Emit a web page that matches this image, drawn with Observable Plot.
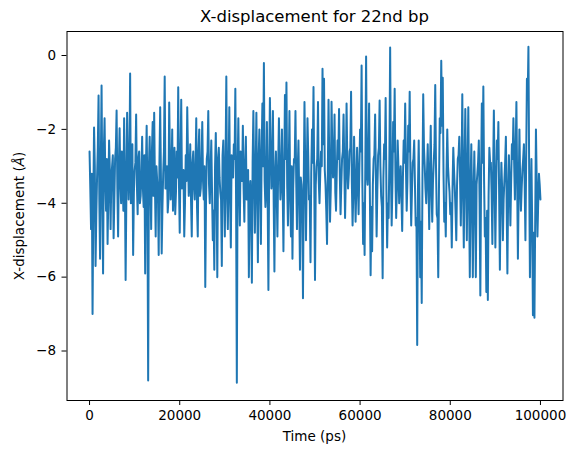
<!DOCTYPE html>
<html><head><meta charset="utf-8">
<script src="https://cdn.jsdelivr.net/npm/d3@7"></script>
<script src="https://cdn.jsdelivr.net/npm/@observablehq/plot@0.6"></script>
<style>
body{margin:0;background:#fff;}
#wrap{position:relative;width:575px;height:453px;font-family:"DejaVu Sans",sans-serif;color:#000;}
#wrap svg{position:absolute;left:0;top:0;}
.lbl{position:absolute;white-space:nowrap;line-height:1;}
</style></head><body>
<div id="wrap">
<div class="lbl" style="left:314.5px;top:17px;transform:translate(-50%,-50%);font-size:16.5px;">X-displacement for 22nd bp</div>
<div class="lbl" style="left:314.5px;top:437px;transform:translate(-50%,-50%);font-size:13.5px;">Time (ps)</div>
<div class="lbl" style="left:20px;top:215.5px;transform:translate(-50%,-50%) rotate(-90deg);font-size:13.5px;">X-displacement (<i>Å</i>)</div>
</div>
<script>
const title = "X-displacement for 22nd bp";
const xLabel = "Time (ps)";
const yLabel = "X-displacement (Å)";
const xTicks = [0, 20000, 40000, 60000, 80000, 100000];
const yTicks = [0, -2, -4, -6, -8];
const timeStep = 100000 / 300; // ps between the main samples
// samples at t = i * timeStep
const xDisp = [
  -2.6,-4.7,-7.0,-1.95,-5.7,-3.3,-1.08,-5.5,-0.81,-5.9,-1.7,-4.2,-5.1,-2.3,-4.7,
  -3.0,-4.95,-2.8,-1.49,-4.9,-1.97,-4.0,-3.2,-1.7,-6.08,-1.55,-3.9,-0.49,-3.5,-5.4,
  -3.1,-1.6,-4.3,-2.6,-3.8,-2.2,-4.1,-5.9,-1.9,-8.8,-2.2,-4.7,-1.8,-1.55,-4.9,
  -3.4,-5.4,-1.4,-5.36,-3.2,-0.57,-3.6,-4.25,-1.27,-3.9,-2.0,-3.5,-4.3,-2.6,-0.86,
  -4.8,-1.2,-3.4,-4.9,-2.7,-1.4,-3.8,-2.4,-4.9,-2.6,-3.9,-1.7,-4.9,-2.0,-3.6,
  -1.8,-3.9,-6.27,-2.8,-1.5,-4.0,-2.3,-5.0,-5.8,-2.1,-6.0,-2.5,-3.7,-5.7,-2.3,
  -4.9,-0.57,-4.7,-1.4,-5.2,-3.0,-2.4,-0.9,-8.86,-1.7,-4.6,-2.8,-1.9,-4.5,-2.2,
  -3.5,-6.0,-3.4,-6.15,-1.5,-4.8,-1.55,-5.6,-2.0,-5.1,-1.3,-0.2,-4.1,-1.8,-6.35,
  -1.15,-3.6,-1.5,-5.85,-2.6,-4.9,-1.7,-3.9,-2.0,-5.3,-1.07,-0.73,-4.6,-1.5,-4.9,
  -5.5,-2.8,-1.5,-4.7,-2.3,-5.8,-3.5,-6.57,-1.26,-5.0,-1.7,-3.9,-5.6,-2.0,-0.85,
  -6.08,-3.0,-1.26,-4.0,-2.6,-0.36,-0.63,-3.5,-5.1,-1.2,-4.5,-1.25,-3.3,-1.6,-4.2,
  -2.3,-1.45,-4.3,-2.8,-1.6,-4.4,-1.3,-3.6,-2.6,-0.98,-4.6,-2.2,-4.5,-2.5,-4.3,
  -2.0,-0.27,-5.1,-5.4,-0.03,-3.5,-1.3,-5.95,-5.3,-2.8,-1.6,-4.9,-2.7,-1.22,-3.8,
  -6.03,-2.4,-1.15,-5.2,-4.4,0.22,-4.6,-1.8,-0.9,-4.4,-2.3,-4.0,-3.0,-4.75,-2.3,
  -1.3,-4.2,-1.9,-0.98,-4.6,-2.9,-2.3,-4.6,-7.84,-2.3,-6.0,-6.7,-1.05,-3.0,-4.0,
  -2.4,-4.7,-1.9,-4.5,-2.9,-0.8,-4.3,-6.0,-1.7,-0.14,-0.6,-4.5,-4.9,-2.0,-3.4,
  -4.3,-5.2,-2.5,-3.6,-5.0,-2.8,-2.2,-4.6,-1.05,-5.2,-1.45,-5.0,-1.4,-6.0,-2.4,
  -6.0,-2.6,-6.0,-3.2,-2.3,-6.5,-1.3,-0.84,-4.9,-6.4,-6.62,-2.5,-2.9,-5.1,-1.49,
  -5.2,-2.3,-1.8,-5.8,-2.9,-5.0,-3.4,-2.2,-5.9,-2.7,-4.6,-2.4,-1.7,-3.9,-1.26,
  -5.5,-2.0,-4.2,-3.1,-2.4,-5.0,-0.63,0.24,-6.0,-2.8,-7.03,-7.1,-2.0,-4.9,-3.2,
  -3.9
];
// samples at t = (i + 0.5) * timeStep (the dense core of the band)
const xDispMid = [
  -3.6,-3.2,-4.1,-3.0,-4.3,-2.5,-3.9,-2.9,-3.7,-2.6,-3.4,-2.8,-3.8,-3.1,-3.3,
  -2.7,-3.9,-2.5,-3.6,-3.0,-3.4,-2.6,-4.2,-3.3,-3.8,-2.9,-3.1,-4.0,-2.4,-3.7,
  -2.9,-3.5,-2.8,-4.0,-3.2,-3.6,-2.7,-3.1,-3.9,-3.0,-3.4,-2.6,-3.8,-3.5,-3.0,
  -3.7,-2.9,-3.3,-4.1,-2.6,-3.6,-3.0,-3.9,-2.8,-3.2,-4.2,-2.5,-3.7,-3.3,-3.5,
  -2.8,-3.6,-3.1,-4.0,-3.4,-2.7,-3.3,-3.9,-2.9,-3.5,-3.0,-4.1,-2.6,-3.8,-2.9,
  -3.4,-3.0,-3.9,-2.6,-3.5,-3.1,-3.7,-4.2,-3.0,-3.6,-2.8,-3.3,-3.9,-2.7,-3.5,
  -2.9,-3.7,-3.2,-3.8,-2.7,-3.3,-2.8,-4.0,-3.1,-3.5,-2.6,-3.4,-3.6,-3.0,-3.9,
  -3.1,-3.8,-4.3,-2.9,-3.3,-3.2,-3.7,-2.8,-3.5,-2.6,-3.0,-3.4,-3.6,-3.9,-3.2,
  -2.5,-3.3,-3.9,-3.2,-3.7,-3.0,-2.9,-3.4,-3.6,-3.2,-2.8,-3.5,-3.1,-3.8,-3.0,
  -3.6,-2.9,-3.4,-3.1,-3.9,-3.3,-4.0,-3.5,-3.0,-3.3,-2.7,-3.8,-3.2,-2.9,-3.4,
  -3.5,-2.8,-3.4,-3.2,-3.0,-2.4,-3.1,-4.2,-3.3,-2.9,-3.6,-2.5,-3.0,-3.7,-3.1,
  -2.8,-3.2,-3.5,-2.6,-3.0,-3.3,-2.9,-3.2,-2.5,-3.4,-3.7,-3.3,-3.6,-3.4,-3.1,
  -2.6,-3.4,-4.0,-2.9,-3.2,-2.8,-3.7,-4.1,-3.5,-2.7,-3.3,-3.6,-2.5,-3.0,-4.1,
  -3.3,-2.8,-3.6,-4.0,-2.7,-3.1,-3.5,-2.6,-3.2,-3.6,-3.0,-3.4,-3.8,-3.3,-2.9,
  -3.0,-3.4,-2.6,-3.3,-3.7,-2.8,-3.5,-4.4,-3.6,-3.9,-4.5,-3.3,-2.5,-3.6,-3.2,
  -3.5,-3.1,-3.6,-3.4,-2.4,-3.0,-4.4,-3.5,-2.1,-1.9,-3.2,-4.0,-3.2,-3.0,-3.7,
  -4.0,-3.6,-3.1,-4.2,-3.5,-2.7,-3.3,-3.2,-3.6,-3.0,-3.4,-3.2,-3.9,-3.5,-4.0,
  -3.8,-3.9,-3.5,-2.9,-4.0,-3.3,-2.9,-3.4,-4.4,-4.2,-3.8,-2.9,-3.7,-3.2,-3.4,
  -3.6,-2.8,-3.7,-3.9,-3.6,-3.9,-2.9,-4.0,-3.8,-3.5,-3.4,-2.8,-2.9,-2.6,-3.4,
  -3.7,-3.4,-3.6,-2.8,-3.5,-2.8,-1.2,-3.2,-4.1,-4.6,-4.8,-4.5,-3.4,-4.0,-3.5
];
const data = [];
xDisp.forEach((v, i) => {
  data.push({t: i * timeStep, v});
  if (i < xDispMid.length) data.push({t: (i + 0.5) * timeStep, v: xDispMid[i]});
});

const chart = Plot.plot({
  width: 575, height: 453,
  marginTop: 31, marginLeft: 66.5, marginRight: 12.5, marginBottom: 53,
  style: {fontFamily: "DejaVu Sans", fontSize: "13.5px", background: "transparent", color: "#000"},
  x: {domain: [-5000, 105000]},
  y: {domain: [-9.34, 0.65]},
  marks: [
    Plot.line(data, {x: "t", y: "v", stroke: "#1f77b4", strokeWidth: 2}),
    Plot.axisX({ticks: xTicks, tickFormat: d3.format("d"), tickSize: 5, tickPadding: 5, label: null}),
    Plot.axisY({ticks: yTicks, tickSize: 5, tickPadding: 6, label: null}),
    Plot.frame({stroke: "#000", strokeWidth: 1})
  ]
});
document.getElementById("wrap").prepend(chart);
</script>
</body></html>
